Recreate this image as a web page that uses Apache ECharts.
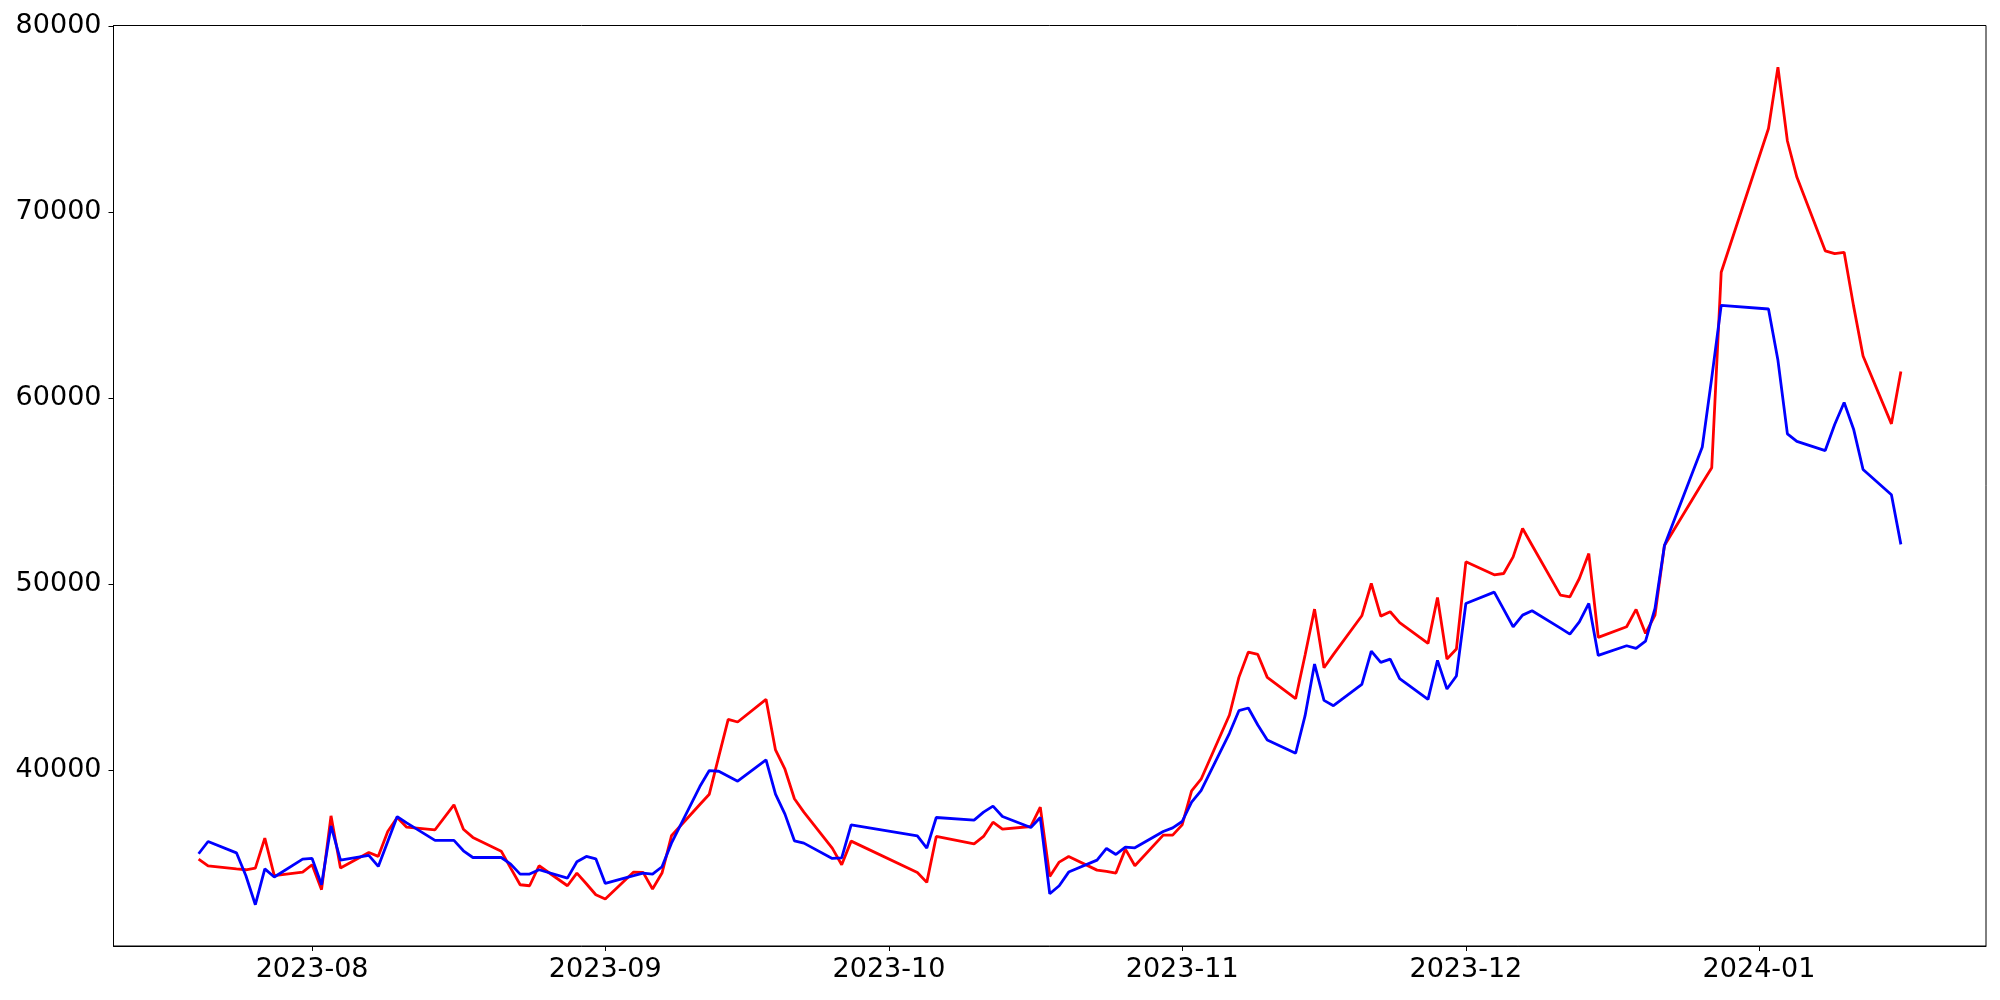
<!DOCTYPE html>
<html><head><meta charset="utf-8">
<script src="https://cdn.jsdelivr.net/npm/echarts@6/dist/echarts.min.js"></script>
<style>html,body{margin:0;padding:0;background:#fff}#c{width:2000px;height:1000px}</style>
</head><body><div id="c"></div>
<script>
const dates = [
 '2023-07-20','2023-07-21','2023-07-24','2023-07-25','2023-07-26','2023-07-27','2023-07-28','2023-07-31',
 '2023-08-01','2023-08-02','2023-08-03','2023-08-04','2023-08-07','2023-08-08','2023-08-09','2023-08-10','2023-08-11',
 '2023-08-14','2023-08-16','2023-08-17','2023-08-18','2023-08-21','2023-08-22','2023-08-23','2023-08-24','2023-08-25',
 '2023-08-28','2023-08-29','2023-08-30','2023-08-31',
 '2023-09-01','2023-09-04','2023-09-05','2023-09-06','2023-09-07','2023-09-08','2023-09-11','2023-09-12','2023-09-13',
 '2023-09-14','2023-09-15','2023-09-18','2023-09-19','2023-09-20','2023-09-21','2023-09-22','2023-09-25','2023-09-26','2023-09-27',
 '2023-10-04','2023-10-05','2023-10-06','2023-10-10','2023-10-11','2023-10-12','2023-10-13','2023-10-16','2023-10-17',
 '2023-10-18','2023-10-19','2023-10-20','2023-10-23','2023-10-24','2023-10-25','2023-10-26','2023-10-27','2023-10-30','2023-10-31',
 '2023-11-01','2023-11-02','2023-11-03','2023-11-06','2023-11-07','2023-11-08','2023-11-09','2023-11-10','2023-11-13',
 '2023-11-14','2023-11-15','2023-11-16','2023-11-17','2023-11-20','2023-11-21','2023-11-22','2023-11-23','2023-11-24',
 '2023-11-27','2023-11-28','2023-11-29','2023-11-30',
 '2023-12-01','2023-12-04','2023-12-05','2023-12-06','2023-12-07','2023-12-08','2023-12-11','2023-12-12','2023-12-13',
 '2023-12-14','2023-12-15','2023-12-18','2023-12-19','2023-12-20','2023-12-21','2023-12-22','2023-12-26','2023-12-27','2023-12-28',
 '2024-01-02','2024-01-03','2024-01-04','2024-01-05','2024-01-08','2024-01-09','2024-01-10','2024-01-11','2024-01-12',
 '2024-01-15','2024-01-16'
];
const redValues = [
 35220,34860,34700,34650,34740,36350,34330,34520,
 34920,33580,37550,34740,35580,35370,36710,37460,36940,
 36800,38140,36830,36390,35650,34740,33844,33790,34865,
 33790,34471,33898,33307,
 33075,34525,34507,33612,34471,36476,38159,38713,40736,
 42741,42597,43815,41094,40056,38470,37750,35814,34918,36190,
 34507,33970,36440,36046,36440,37210,36834,36977,38015,
 34292,35062,35366,34630,34560,34470,35759,34864,36511,36511,
 37066,38891,39518,42973,44995,46356,46230,44995,43850,
 46195,48665,45514,46230,48307,50043,48289,48522,47940,
 46822,49292,45981,46518,
 51208,50509,50581,51476,52998,52103,49418,49328,50313,
 51655,47144,47717,48648,47359,48344,52085,55446,56270,66780,
 74510,77810,73840,71902,67932,67778,67855,64959,62273,
 58629,61449
];
const blueValues = [
 35510,36170,35560,34330,32770,34700,34260,35220,
 35260,33840,37010,35170,35420,34830,36170,37510,37170,
 36230,36230,35670,35310,35310,34954,34417,34417,34650,
 34200,35080,35366,35240,
 33916,34330,34471,34417,34811,36082,39125,39984,39948,
 39680,39411,40557,38713,37640,36207,36082,35259,35294,37067,
 36476,35814,37460,37317,37747,38069,37514,36923,37460,
 33361,33791,34525,35170,35795,35472,35866,35830,36707,36904,
 37245,38283,38909,41988,43205,43348,42436,41630,40914,
 42937,45711,43760,43474,44619,46409,45801,45980,44930,
 43815,45909,44370,45068,
 48970,49579,48648,47717,48344,48576,47645,47323,47985,
 48970,46177,46697,46553,46947,48702,52085,57383,61100,64997,
 64805,62043,58092,57690,57191,58591,59780,58342,56174,
 54813,52147
];
const monthTicks = ['2023-08-01','2023-09-01','2023-10-01','2023-11-01','2023-12-01','2024-01-01'];
const yTicks = [40000, 50000, 60000, 70000, 80000];
const xRange = ['2023-07-11', '2024-01-25'];
const yRange = [30550, 80050];

const ts = s => Date.parse(s + 'T00:00:00Z');
const pad = n => (n < 10 ? '0' : '') + n;
const fmtMonth = v => { const d = new Date(v); return d.getUTCFullYear() + '-' + pad(d.getUTCMonth() + 1); };
const redData = dates.map((d, i) => [ts(d), redValues[i]]);
const blueData = dates.map((d, i) => [ts(d), blueValues[i]]);
const font = 'DejaVu Sans';

const chart = echarts.init(document.getElementById('c'), null, {renderer: 'canvas'});
chart.setOption({
  animation: false,
  backgroundColor: '#ffffff',
  grid: {left: 113.5, right: 14, top: 25.5, bottom: 54, show: true, borderColor: '#000', borderWidth: 1, backgroundColor: 'transparent'},
  xAxis: {
    type: 'value',
    min: ts(xRange[0]), max: ts(xRange[1]),
    axisLine: {show: true, lineStyle: {color: '#000', width: 1}},
    axisTick: {show: true, inside: false, length: 5, lineStyle: {color: '#000', width: 1}, customValues: monthTicks.map(ts)},
    axisLabel: {show: true, margin: 10, color: '#000', fontFamily: font, fontSize: 27, customValues: monthTicks.map(ts), formatter: v => fmtMonth(v)},
    splitLine: {show: false}
  },
  yAxis: {
    type: 'value',
    min: yRange[0], max: yRange[1],
    axisLine: {show: true, lineStyle: {color: '#000', width: 1}},
    axisTick: {show: true, inside: false, length: 5, lineStyle: {color: '#000', width: 1}, customValues: yTicks},
    axisLabel: {show: true, margin: 12, color: '#000', fontFamily: font, fontSize: 27, customValues: yTicks, formatter: v => String(v)},
    splitLine: {show: false}
  },
  series: [
    {type: 'line', data: redData, showSymbol: false, symbol: 'none', lineStyle: {color: '#ff0000', width: 2.8}, itemStyle: {color: '#ff0000'}, z: 2},
    {type: 'line', data: blueData, showSymbol: false, symbol: 'none', lineStyle: {color: '#0000ff', width: 2.8}, itemStyle: {color: '#0000ff'}, z: 3}
  ]
});
</script>
</body></html>
